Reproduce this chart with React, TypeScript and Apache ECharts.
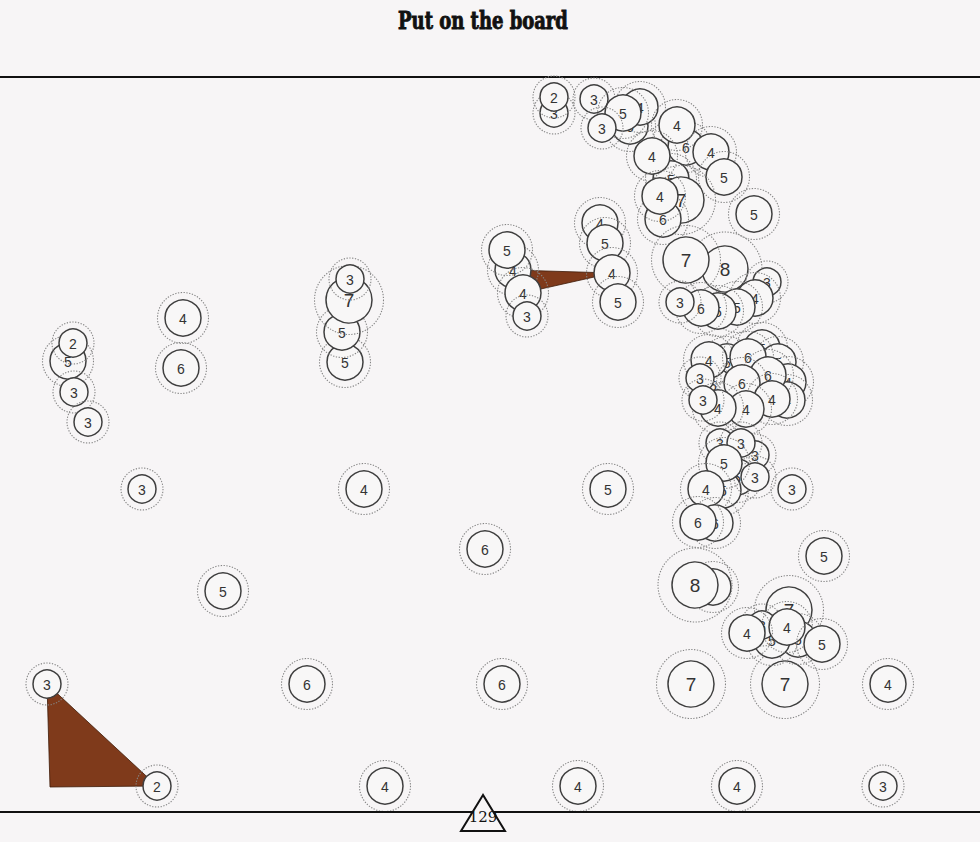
import React, { useEffect, useRef } from "react";
import * as echarts from "echarts";

// Circle positions (chart units = page pixels) and values, in drawing order
const xs = [
  142, 364, 608, 485, 223, 47, 307, 502, 157, 385, 578, 737, 883, 691, 785, 888, 824, 792,
  68, 73, 74, 88, 183, 181, 345, 342, 349, 350,
  513, 507, 523, 527, 600, 605, 612, 618,
  554, 554, 594, 630, 640, 623, 602, 686, 677, 711, 724, 671, 681, 663, 652, 660, 754,
  725, 686, 767, 755, 737, 718, 701, 680,
  762, 778, 788, 787, 727, 713, 709, 748, 768, 742, 700, 772, 746, 718, 703,
  755, 737, 723, 720, 741, 755, 724, 706, 715, 698,
  713, 695, 789, 798, 772, 762, 787, 822, 747,
];
const ys = [
  489, 489, 489, 549, 591, 684, 684, 684, 786, 786, 786, 786, 786, 684, 684, 684, 556, 489,
  361, 343, 392, 422, 318, 368, 362, 332, 300, 279,
  270, 250, 293, 316, 223, 243, 273, 302,
  113, 97, 99, 126, 107, 113, 128, 147, 125, 152, 177, 179, 200, 219, 156, 196, 214,
  269, 260, 282, 298, 307, 311, 308, 302,
  348, 362, 382, 400, 362, 385, 360, 357, 375, 383, 378, 399, 409, 408, 400,
  455, 477, 490, 443, 443, 477, 463, 489, 523, 522,
  587, 585, 610, 639, 640, 625, 627, 644, 633,
];
const vals = [
  3, 4, 5, 6, 5, 3, 6, 6, 2, 4, 4, 4, 3, 7, 7, 4, 5, 3,
  5, 2, 3, 3, 4, 6, 5, 5, 7, 3,
  4, 5, 4, 3, 4, 5, 4, 5,
  3, 2, 3, 6, 4, 5, 3, 6, 4, 4, 5, 5, 7, 6, 4, 4, 5,
  8, 7, 3, 4, 5, 5, 6, 3,
  5, 5, 4, 4, 5, 5, 4, 6, 6, 6, 3, 4, 4, 4, 3,
  3, 5, 5, 3, 3, 3, 5, 4, 6, 6,
  5, 8, 7, 5, 5, 3, 4, 5, 4,
];

// Brown polygons (vertex lists in chart units)
const polyXs = [
  [47, 157, 50],
  [513, 612, 523],
];
const polyYs = [
  [684, 786, 787],
  [270, 273, 293],
];

const pageNumber = "129";
const titleText = "Put on the board";

const BG = "#f7f5f6";

function innerR(v: number) {
  if (v <= 3) return 14;
  if (v <= 6) return 18;
  return 23;
}
function outerR(v: number) {
  if (v <= 3) return 21;
  if (v <= 6) return 25.5;
  if (v === 7) return 34.5;
  return 37;
}

export default function App() {
  const ref = useRef<HTMLDivElement>(null);
  useEffect(() => {
    if (!ref.current) return;
    const chart = echarts.init(ref.current, undefined, { renderer: "svg" });
    const circleData = xs.map((x, i) => [x, ys[i], vals[i]]);
    const polyData = polyXs.map((_, i) => [i]);
    chart.setOption({
      animation: false,
      backgroundColor: BG,
      grid: { left: 0, right: 0, top: 77, bottom: 30 },
      xAxis: { type: "value", min: 0, max: 980, show: false },
      yAxis: { type: "value", min: 77, max: 812, inverse: true, show: false },
      graphic: [
        {
          type: "text",
          x: 483,
          y: 20,
          scaleX: 0.8,
          style: {
            text: titleText,
            x: 0,
            y: 0,
            align: "center",
            verticalAlign: "middle",
            font: "bold 25px 'DejaVu Serif Condensed', 'DejaVu Serif', serif",
            fill: "#111",
            stroke: "#111",
            lineWidth: 0.9,
          },
        },
        {
          type: "line",
          shape: { x1: 0, y1: 77, x2: 980, y2: 77 },
          style: { stroke: "#111", lineWidth: 2 },
        },
        {
          type: "line",
          shape: { x1: 0, y1: 812, x2: 980, y2: 812 },
          style: { stroke: "#111", lineWidth: 2 },
          z: 10,
        },
        {
          type: "polygon",
          shape: { points: [[483, 795], [461, 831], [505, 831]] },
          style: { fill: BG, stroke: "#111", lineWidth: 2 },
          z: 11,
        },
        {
          type: "text",
          x: 483,
          y: 817,
          z: 12,
          style: {
            text: pageNumber,
            align: "center",
            verticalAlign: "middle",
            font: "15px 'DejaVu Serif', serif",
            fill: "#111",
          },
        },
      ],
      series: [
        {
          type: "custom",
          z: 1,
          data: polyData,
          renderItem: (params: any, api: any) => {
            const idx = api.value(0);
            const pts = polyXs[idx].map((x, j) => api.coord([x, polyYs[idx][j]]));
            return {
              type: "polygon",
              shape: { points: pts },
              style: { fill: "#7f3a1b", stroke: "#3d1a08", lineWidth: 0.8 },
            };
          },
        },
        {
          type: "custom",
          z: 2,
          data: circleData,
          renderItem: (params: any, api: any) => {
            const v = api.value(2);
            const p = api.coord([api.value(0), api.value(1)]);
            const r = innerR(v);
            const R = outerR(v);
            const fs = v >= 7 ? 19 : 14;
            return {
              type: "group",
              children: [
                {
                  type: "circle",
                  shape: { cx: p[0], cy: p[1], r },
                  style: { fill: "#f8f7f7", stroke: "#3f3f3f", lineWidth: 1.5 },
                },
                {
                  type: "circle",
                  shape: { cx: p[0], cy: p[1], r: R },
                  style: { fill: "none", stroke: "#858585", lineWidth: 1.1, lineDash: [1.3, 1.5] },
                },
                {
                  type: "text",
                  style: {
                    text: String(v),
                    x: p[0],
                    y: p[1] + 0.5,
                    align: "center",
                    verticalAlign: "middle",
                    font: `${fs}px 'Liberation Sans', Arial, sans-serif`,
                    fill: "#333",
                  },
                },
              ],
            };
          },
        },
      ],
    });
    return () => chart.dispose();
  }, []);
  return (
    <div
      ref={ref}
      style={{ position: "absolute", left: 0, top: 0, width: 980, height: 842, background: BG }}
    />
  );
}
